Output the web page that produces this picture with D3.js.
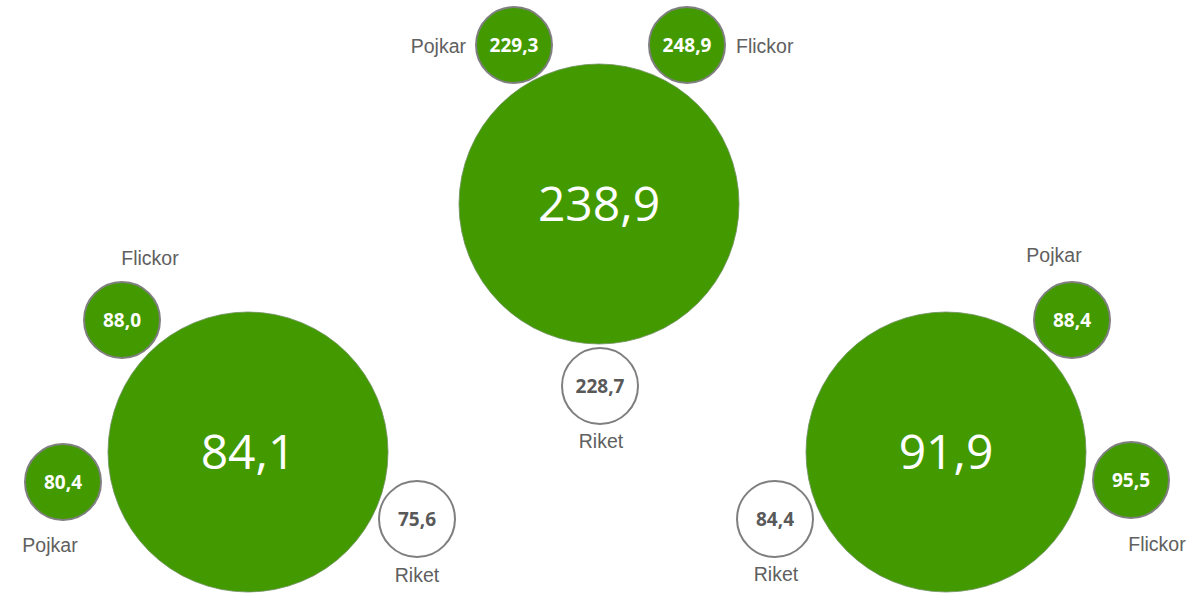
<!DOCTYPE html>
<html>
<head>
<meta charset="utf-8">
<script src="https://cdn.jsdelivr.net/npm/d3@7"></script>
<style>
  body { margin: 0; background: #fff; }
  svg { display: block; }
</style>
</head>
<body>
<div id="chart"></div>
<script>
// Chart data
var groups = ["vänster", "mitten", "höger"];
var totals = [84.1, 238.9, 91.9];
var pojkar = [80.4, 229.3, 88.4];
var flickor = [88.0, 248.9, 95.5];
var riket = [75.6, 228.7, 84.4];
var seriesNames = ["Pojkar", "Flickor", "Riket"];

// SVG area
var svgWidth = 1190;
var svgHeight = 595;

var svg = d3.select("#chart")
    .append("svg")
    .attr("width", svgWidth)
    .attr("height", svgHeight);

// Swedish number format (comma decimals)
var sv = d3.formatLocale({ decimal: ",", thousands: " ", grouping: [3], currency: ["", " kr"] });
var fmt = sv.format(".1f");

// Layout of each group (big circle centre) and its satellites
var centers = [[248, 452], [599, 204], [946, 452]];
var layout = [
    { // left
        Pojkar: { c: [-185, 30], l: [-198, 93], a: "middle" },
        Flickor: { c: [-126, -132], l: [-98, -194], a: "middle" },
        Riket: { c: [169, 67], l: [169, 123], a: "middle" }
    },
    { // centre
        Pojkar: { c: [-85, -159], l: [-133, -158], a: "end" },
        Flickor: { c: [88, -159], l: [137, -158], a: "start" },
        Riket: { c: [1, 182], l: [2, 237], a: "middle" }
    },
    { // right
        Pojkar: { c: [126, -132], l: [108, -197], a: "middle" },
        Flickor: { c: [185, 28], l: [211, 92], a: "middle" },
        Riket: { c: [-171, 67], l: [-170, 122], a: "middle" }
    }
];

var bigR = 140;
var smallR = 38;
var green = "#439a00";
var grey = "#7f7f7f";
var textGrey = "#595959";

var data = groups.map(function(g, i) {
    return {
        name: g,
        total: totals[i],
        center: centers[i],
        sats: [
            { name: seriesNames[0], value: pojkar[i], fill: green },
            { name: seriesNames[1], value: flickor[i], fill: green },
            { name: seriesNames[2], value: riket[i], fill: "#ffffff" }
        ]
    };
});

var groupSel = svg.selectAll(".grp")
    .data(data)
    .enter().append("g")
    .attr("class", "grp")
    .attr("transform", d => `translate(${d.center[0]}, ${d.center[1]})`);

// Big circles
groupSel.append("circle")
    .attr("r", bigR)
    .attr("fill", green)
    .attr("stroke", "#6f8f5f")
    .attr("stroke-width", 0.8);

groupSel.append("text")
    .attr("text-anchor", "middle")
    .attr("dy", "0.36em")
    .attr("fill", "#ffffff")
    .style("font-family", "'Open Sans', sans-serif")
    .style("font-size", "48px")
    .text(d => fmt(d.total));

// Satellite circles
var sat = groupSel.selectAll(".sat")
    .data((d, i) => d.sats.map(s => Object.assign({ pos: layout[i][s.name] }, s)))
    .enter().append("g")
    .attr("class", "sat");

sat.append("circle")
    .attr("cx", d => d.pos.c[0])
    .attr("cy", d => d.pos.c[1])
    .attr("r", smallR)
    .attr("fill", d => d.fill)
    .attr("stroke", grey)
    .attr("stroke-width", 2);

sat.append("text")
    .attr("x", d => d.pos.c[0])
    .attr("y", d => d.pos.c[1])
    .attr("dy", "0.36em")
    .attr("text-anchor", "middle")
    .attr("fill", d => d.name === "Riket" ? textGrey : "#ffffff")
    .style("font-family", "'Open Sans', sans-serif")
    .style("font-weight", "bold")
    .style("font-size", "19px")
    .text(d => fmt(d.value));

// Series labels
sat.append("text")
    .attr("x", d => d.pos.l[0])
    .attr("y", d => d.pos.l[1])
    .attr("dy", "0.36em")
    .attr("text-anchor", d => d.pos.a)
    .attr("fill", "#606060")
    .style("font-family", "'Liberation Sans', Arial, sans-serif")
    .style("font-size", "19.5px")
    .text(d => d.name);
</script>
</body>
</html>
